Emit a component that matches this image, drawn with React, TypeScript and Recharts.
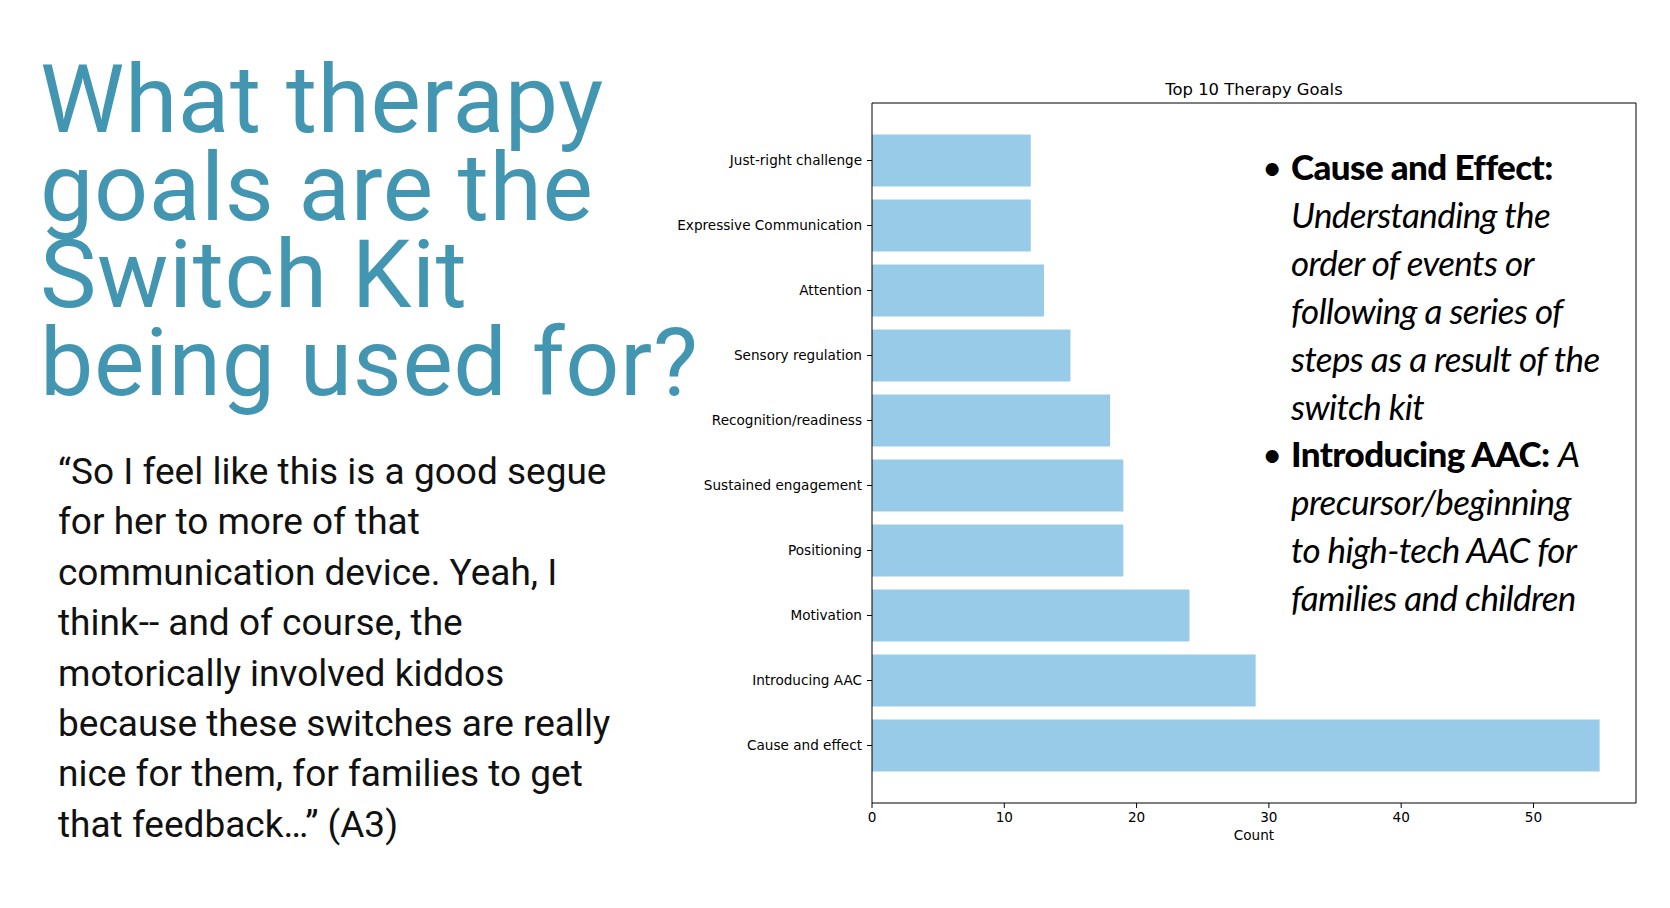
import React from 'react';
import { BarChart, Bar, XAxis, YAxis, CartesianGrid } from 'recharts';

const categories = [
  'Just-right challenge',
  'Expressive Communication',
  'Attention',
  'Sensory regulation',
  'Recognition/readiness',
  'Sustained engagement',
  'Positioning',
  'Motivation',
  'Introducing AAC',
  'Cause and effect',
];
const counts = [12, 12, 13, 15, 18, 19, 19, 24, 29, 55];
const xTicks = [0, 10, 20, 30, 40, 50];
const xMax = 57.75;

const titleLines = ['What therapy', 'goals are the', 'Switch Kit', 'being used for?'];
const quoteLines = [
  '\u201CSo I feel like this is a good segue',
  'for her to more of that',
  'communication device. Yeah, I',
  'think-- and of course, the',
  'motorically involved kiddos',
  'because these switches are really',
  'nice for them, for families to get',
  'that feedback\u2026\u201D (A3)',
];

const data = categories.map((name, i) => ({ name, count: counts[i] }));

const axisFont = { fontFamily: 'DejaVu Sans', fontSize: 13.6, fill: '#000' };

const topEdge = (p: any) => [p.offset.top];
const rightEdge = (p: any) => [p.offset.left + p.offset.width];

export default function App() {
  return (
    <div style={{ position: 'absolute', left: 0, top: 0, width: 1670, height: 908, background: '#fff', overflow: 'hidden' }}>
      <div style={{ position: 'absolute', left: 0, top: 0 }}>
        <BarChart
          width={1670}
          height={908}
          layout="vertical"
          data={data}
          margin={{ top: 103, right: 34, bottom: 63, left: 672 }}
          barCategoryGap="10%"
        >
          <CartesianGrid
            stroke="#000"
            strokeWidth={1}
            horizontalCoordinatesGenerator={topEdge}
            verticalCoordinatesGenerator={rightEdge}
          />
          <XAxis
            type="number"
            domain={[0, xMax]}
            ticks={xTicks}
            allowDataOverflow
            height={42}
            tickSize={5}
            tickMargin={4}
            tick={axisFont}
            axisLine={{ stroke: '#000' }}
            tickLine={{ stroke: '#000' }}
            label={{ value: 'Count', position: 'insideBottom', offset: 5, style: { ...axisFont } }}
          />
          <YAxis
            type="category"
            dataKey="name"
            width={200}
            tickSize={5}
            tickMargin={5}
            tick={axisFont}
            interval={0}
            padding={{ top: 25, bottom: 25 }}
            axisLine={{ stroke: '#000' }}
            tickLine={{ stroke: '#000' }}
          />
          <Bar dataKey="count" fill="#97cbe8" isAnimationActive={false} />
        </BarChart>
      </div>

      <div
        style={{
          position: 'absolute',
          left: 1054,
          width: 400,
          top: 80,
          textAlign: 'center',
          fontFamily: 'DejaVu Sans',
          fontSize: 16.4,
          lineHeight: '20px',
          color: '#000',
        }}
      >
        Top 10 Therapy Goals
      </div>

      <div
        style={{
          position: 'absolute',
          left: 40,
          top: 56,
          width: 610,
          overflow: 'visible',
          fontFamily: 'Roboto',
          fontSize: 95,
          lineHeight: '87.5px',
          color: '#4396b1',
          letterSpacing: 0.6,
          whiteSpace: 'pre',
        }}
      >
        {titleLines.join('\n')}
      </div>

      <div
        style={{
          position: 'absolute',
          left: 58,
          top: 447,
          fontFamily: 'Roboto',
          fontSize: 37,
          lineHeight: '50.4px',
          color: '#111',
          whiteSpace: 'pre',
        }}
      >
        {quoteLines.join('\n')}
      </div>

      <div
        style={{
          position: 'absolute',
          left: 1260,
          top: 143,
          fontFamily: 'Lato',
          fontSize: 35,
          lineHeight: '47.9px',
          color: '#000',
          whiteSpace: 'nowrap',
          letterSpacing: -0.6,
        }}
      >
        <div style={{ display: 'flex' }}>
          <div style={{ width: 29, textAlign: 'left', paddingLeft: 2 }}>{'\u2022'}</div>
          <div>
            <div><span style={{ fontWeight: 900 }}>Cause and Effect:</span></div>
            <div><i>Understanding the</i></div>
            <div><i>order of events or</i></div>
            <div><i>following a series of</i></div>
            <div><i>steps as a result of the</i></div>
            <div><i>switch kit</i></div>
          </div>
        </div>
        <div style={{ display: 'flex' }}>
          <div style={{ width: 29, textAlign: 'left', paddingLeft: 2 }}>{'\u2022'}</div>
          <div>
            <div><span style={{ fontWeight: 900 }}>Introducing AAC:</span> <i>A</i></div>
            <div><i>precursor/beginning</i></div>
            <div><i>to high-tech AAC for</i></div>
            <div><i>families and children</i></div>
          </div>
        </div>
      </div>
    </div>
  );
}
